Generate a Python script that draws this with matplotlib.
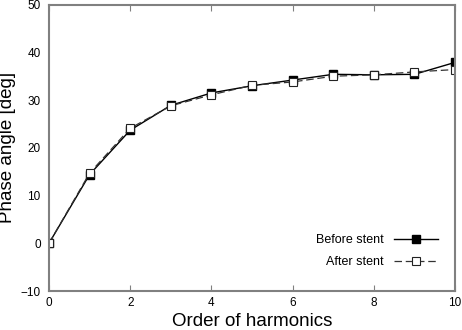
import numpy as np
from matplotlib import pyplot as plt

plt.rcParams['font.family'] = ['Liberation Sans', 'DejaVu Sans']

order = np.arange(0, 11)
before = [0, 14.4, 23.7, 28.9, 31.5, 33.0, 34.2, 35.4, 35.3, 35.4, 37.9]
after = [0, 14.7, 24.1, 28.8, 31.1, 33.1, 33.8, 35.0, 35.3, 35.9, 36.4]

fig = plt.figure(figsize=(4.62, 3.3), dpi=100)
ax = fig.add_axes([0.106, 0.118, 0.879, 0.868])

ax.plot(order, before, color='black', linewidth=1.0, marker='s', markersize=5.5,
        markerfacecolor='black', markeredgecolor='black', label='Before stent')
ax.plot(order, after, color='#333333', linewidth=0.9, linestyle=(0, (6, 3)), marker='s',
        markersize=5.5, markerfacecolor='white', markeredgecolor='#222222', markeredgewidth=0.8,
        label='After stent')

ax.set_xlim(0, 10)
ax.set_ylim(-10, 50)
ax.set_xticks([0, 2, 4, 6, 8, 10])
ax.set_yticks([-10, 0, 10, 20, 30, 40, 50])
ax.tick_params(axis='x', direction='in', length=4, width=0.8, color='#808080',
               top=True, labelsize=8.5, pad=4)
ax.tick_params(axis='y', length=0, labelsize=8.5, pad=6)
for s in ax.spines.values():
    s.set_color('#808080')
    s.set_linewidth(1.5)

ax.set_xlabel('Order of harmonics', fontsize=13.5, labelpad=3)
ax.set_ylabel('Phase angle [deg]', fontsize=13.5, labelpad=3)

ax.legend(loc='lower right', bbox_to_anchor=(0.985, 0.04), frameon=False, markerfirst=False,
          fontsize=9, handlelength=3.5, handletextpad=0.8, labelspacing=0.8)

plt.savefig('out.png', dpi=100)
